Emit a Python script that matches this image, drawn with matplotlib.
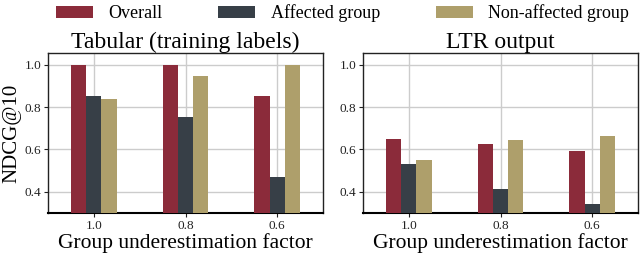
import numpy as np
import matplotlib
matplotlib.use("Agg")
import matplotlib.pyplot as plt

# data
factors = ["1.0", "0.8", "0.6"]
series_names = ["Overall", "Affected group", "Non-affected group"]
colors = ["#8B2B3A", "#373F47", "#AE9F6B"]

tabular_overall = [1.0, 1.0, 0.85]
tabular_affected = [0.853, 0.754, 0.468]
tabular_nonaffected = [0.836, 0.948, 1.0]

ltr_overall = [0.649, 0.627, 0.594]
ltr_affected = [0.533, 0.411, 0.343]
ltr_nonaffected = [0.552, 0.643, 0.662]

plt.rcParams['font.family'] = ['Liberation Serif', 'DejaVu Serif']

fig = plt.figure(figsize=(6.4, 2.59), dpi=100)
ax1 = fig.add_axes([48 / 640, 1 - 213 / 259, 275 / 640, 160 / 259])
ax2 = fig.add_axes([363 / 640, 1 - 213 / 259, 275 / 640, 160 / 259])

x = np.arange(len(factors))
w = 0.165

def draw(ax, data, title):
    for i, vals in enumerate(data):
        ax.bar(x + (i - 1) * w, vals, width=w, color=colors[i],
               label=series_names[i], zorder=3)
    ax.set_xlim(-0.5, 2.5)
    ax.set_ylim(0.3, 1.055)
    ax.set_yticks([0.4, 0.6, 0.8, 1.0])
    ax.set_xticks(x)
    ax.set_xticklabels(factors)
    ax.grid(True, color="#cccccc", linewidth=1.0, zorder=0)
    ax.set_axisbelow(True)
    ax.tick_params(labelsize=9.5, length=3, width=0.8, colors="#222222", pad=2)
    for s in ax.spines.values():
        s.set_color("#222222")
        s.set_linewidth(1.0)
    ax.spines["bottom"].set_linewidth(1.5)
    ax.spines["bottom"].set_color("black")
    ax.set_title(title, fontsize=17, pad=1)
    ax.set_xlabel("Group underestimation factor", fontsize=15.5, labelpad=1)

draw(ax1, [tabular_overall, tabular_affected, tabular_nonaffected], "Tabular (training labels)")
draw(ax2, [ltr_overall, ltr_affected, ltr_nonaffected], "LTR output")
ax1.set_ylabel("NDCG@10", fontsize=15, labelpad=2)

handles, labels = ax1.get_legend_handles_labels()
fig.legend(handles, labels, loc="upper center", bbox_to_anchor=(0.535, 1.045), ncol=3,
           frameon=False, fontsize=13, handlelength=2.05, handleheight=0.7,
           columnspacing=3.1, handletextpad=0.85)

fig.savefig("out.png", dpi=100)
